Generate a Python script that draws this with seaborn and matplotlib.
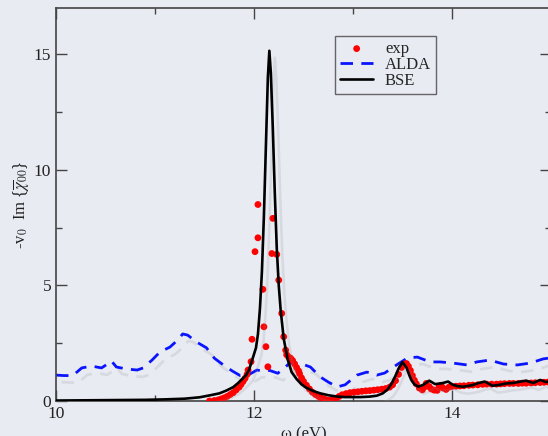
import numpy as np
import pandas as pd
import matplotlib
matplotlib.use("Agg")
import matplotlib.pyplot as plt
import matplotlib.patheffects as pe
from matplotlib.ticker import MultipleLocator
import seaborn as sns

# ---------------- data ----------------
bse_x = [10.0, 10.3, 10.6, 10.9, 11.1, 11.3, 11.45, 11.56, 11.65, 11.72, 11.79, 11.84, 11.88,
         11.92, 11.95, 11.98, 12.02, 12.04, 12.06, 12.08, 12.10, 12.12, 12.14, 12.155, 12.17,
         12.19, 12.21, 12.23, 12.25, 12.27, 12.30, 12.34, 12.38, 12.43, 12.48, 12.53, 12.60,
         12.67, 12.75, 12.84, 12.92, 13.00, 13.08, 13.17, 13.24, 13.30, 13.35, 13.39, 13.43,
         13.46, 13.50, 13.54, 13.57, 13.59, 13.62, 13.66, 13.71, 13.77, 13.83, 13.90, 13.96,
         14.01, 14.06, 14.11, 14.16, 14.21, 14.27, 14.33, 14.41, 14.48, 14.55, 14.62, 14.69,
         14.75, 14.82, 14.89, 14.95, 15.0]
bse_y = [0.02, 0.03, 0.04, 0.05, 0.07, 0.10, 0.16, 0.25, 0.33, 0.45, 0.60, 0.78, 0.95,
         1.12, 1.35, 1.75, 2.3, 2.9, 4.0, 5.6, 8.0, 11.0, 14.0, 15.15, 14.2,
         11.8, 9.0, 6.6, 5.0, 3.9, 2.7, 1.8, 1.25, 0.95, 0.72, 0.57, 0.43,
         0.33, 0.25, 0.19, 0.17, 0.17, 0.17, 0.19, 0.23, 0.33, 0.5, 0.75, 1.1,
         1.4, 1.68, 1.45, 1.1, 0.9, 0.72, 0.62, 0.70, 0.88, 0.73, 0.77, 0.84,
         0.70, 0.64, 0.62, 0.65, 0.69, 0.78, 0.84, 0.66, 0.70, 0.76, 0.78, 0.84,
         0.88, 0.78, 0.91, 0.82, 0.85]

alda_x = [10.0, 10.08, 10.17, 10.26, 10.36, 10.46, 10.52, 10.56, 10.61, 10.72, 10.82, 10.88,
          10.97, 11.05, 11.15, 11.22, 11.28, 11.33, 11.42, 11.52, 11.60, 11.69, 11.78, 11.86,
          11.94, 12.03, 12.08, 12.16, 12.24, 12.30, 12.36, 12.46, 12.57, 12.67, 12.75, 12.84,
          12.92, 13.04, 13.14, 13.24, 13.32, 13.44, 13.55, 13.65, 13.78, 13.88, 14.01, 14.15,
          14.25, 14.38, 14.52, 14.66, 14.79, 14.92, 15.0]
alda_y = [1.12, 1.10, 1.10, 1.43, 1.51, 1.43, 1.60, 1.73, 1.47, 1.38, 1.34, 1.43,
          1.77, 2.12, 2.33, 2.60, 2.90, 2.85, 2.55, 2.30, 1.85, 1.56, 1.30, 1.10,
          1.12, 1.34, 1.30, 1.32, 1.20, 1.40, 1.64, 1.64, 1.47, 1.04, 0.82, 0.61,
          0.70, 1.12, 1.25, 1.12, 1.21, 1.56, 1.86, 1.90, 1.69, 1.69, 1.64, 1.56,
          1.69, 1.77, 1.60, 1.56, 1.64, 1.82, 1.87]

exp_x = [11.55, 11.60, 11.64, 11.67, 11.70, 11.73, 11.76, 11.79, 11.82, 11.85, 11.87, 11.89,
         11.91, 11.93, 11.94, 11.97, 11.98, 12.01, 12.04, 12.04, 12.09, 12.10, 12.12, 12.14,
         12.18, 12.19, 12.23, 12.25, 12.28, 12.30, 12.32, 12.33, 12.35, 12.37, 12.39, 12.41,
         12.43, 12.45, 12.46, 12.48, 12.50, 12.53, 12.56, 12.59, 12.62, 12.65, 12.68, 12.71,
         12.74, 12.77, 12.80, 12.83, 12.86, 12.89, 12.93, 12.97, 13.01, 13.05, 13.09, 13.13,
         13.17, 13.21, 13.25, 13.29, 13.33, 13.37, 13.40, 13.43, 13.46, 13.49, 13.52, 13.54,
         13.56, 13.58, 13.60, 13.62, 13.64, 13.67, 13.70, 13.72, 13.74, 13.77, 13.79, 13.82,
         13.85, 13.87, 13.89, 13.91, 13.94, 13.97, 14.00, 14.04, 14.08, 14.12, 14.17, 14.21,
         14.26, 14.31, 14.35, 14.40, 14.45, 14.49, 14.53, 14.58, 14.62, 14.67, 14.71, 14.75,
         14.80, 14.84, 14.89, 14.93, 14.97]
exp_y = [0.0, 0.02, 0.05, 0.09, 0.14, 0.20, 0.28, 0.36, 0.48, 0.60, 0.72, 0.85,
         0.98, 1.15, 1.34, 1.70, 2.67, 6.46, 7.06, 8.50, 4.83, 3.21, 2.35, 1.48,
         6.38, 7.90, 6.34, 5.23, 3.79, 2.78, 2.20, 2.00, 1.90, 1.85, 1.75, 1.60,
         1.45, 1.30, 1.18, 1.00, 0.85, 0.68, 0.52, 0.38, 0.28, 0.20, 0.13, 0.08,
         0.04, 0.03, 0.06, 0.12, 0.20, 0.27, 0.32, 0.36, 0.38, 0.40, 0.42, 0.44,
         0.45, 0.47, 0.49, 0.51, 0.54, 0.60, 0.70, 0.88, 1.15, 1.45, 1.60, 1.62,
         1.50, 1.32, 1.10, 0.90, 0.74, 0.56, 0.48, 0.60, 0.76, 0.62, 0.52, 0.47,
         0.46, 0.62, 0.68, 0.56, 0.50, 0.60, 0.63, 0.64, 0.65, 0.66, 0.68, 0.69,
         0.70, 0.72, 0.73, 0.73, 0.73, 0.74, 0.75, 0.76, 0.76, 0.76, 0.77, 0.77,
         0.78, 0.79, 0.80, 0.81, 0.82]

xticks = [10, 12, 14]
yticks = [0, 5, 10, 15]

# ---------------- style ----------------
sns.set_style("ticks")
plt.rcParams["font.family"] = ["Liberation Serif", "DejaVu Serif"]
plt.rcParams["mathtext.fontset"] = "stix"

bg = "#e9ebf3"
fig = plt.figure(figsize=(5.48, 4.36), dpi=100, facecolor=bg)
ax = fig.add_axes([56 / 548, 35 / 436, 495 / 548, 393 / 436])
ax.set_facecolor(bg)

shadow = [pe.SimpleLineShadow(offset=(4, -5), shadow_color="#8a8c94", alpha=0.18), pe.Normal()]

df_alda = pd.DataFrame({"x": alda_x, "y": alda_y})
df_bse = pd.DataFrame({"x": bse_x, "y": bse_y})
df_exp = pd.DataFrame({"x": exp_x, "y": exp_y})

sns.scatterplot(data=df_exp, x="x", y="y", ax=ax, color="#ff0000", s=24,
                edgecolor="none", label="exp", zorder=3)
sns.lineplot(data=df_alda, x="x", y="y", ax=ax, color="#0a14ff", lw=2.0,
             sort=False, estimator=None, label="ALDA", zorder=2)
ax.lines[-1].set_dashes((4.5, 3.0))
ax.lines[-1].set_path_effects(shadow)
sns.lineplot(data=df_bse, x="x", y="y", ax=ax, color="black", lw=1.9,
             sort=False, estimator=None, label="BSE", zorder=4)
ax.lines[-1].set_path_effects(shadow)

ax.set_xlim(10, 15)
ax.set_ylim(0, 17)
ax.set_xticks(xticks)
ax.set_yticks(yticks)
ax.xaxis.set_minor_locator(MultipleLocator(1))
ax.yaxis.set_minor_locator(MultipleLocator(2.5))
ax.tick_params(which="both", direction="in", top=True, right=True, colors="#444444",
               labelcolor="#222222", labelsize=12.5)
ax.tick_params(which="major", length=8, width=1.0)
ax.tick_params(which="minor", length=4, width=1.0)
for s in ax.spines.values():
    s.set_color("#444444")
    s.set_linewidth(1.2)

ax.set_xlabel("ω (eV)", fontsize=12, color="#222222", labelpad=3)
ax.set_ylabel(r"-v$_0$  Im {$\overline{\chi}_{00}$}", fontsize=12, color="#222222", labelpad=2)

leg = ax.legend(loc="upper left", bbox_to_anchor=(0.5636, 0.9288), borderaxespad=0,
                fontsize=12, frameon=True, fancybox=False, handlelength=2.0,
                handletextpad=0.7, borderpad=0.3, labelspacing=0.0, scatterpoints=1)
leg.get_frame().set_edgecolor("#444444")
leg.get_frame().set_facecolor(bg)
leg.get_frame().set_linewidth(1.0)
for line in leg.get_lines():
    line.set_path_effects([])

fig.savefig("out.png", dpi=100, facecolor=bg)
